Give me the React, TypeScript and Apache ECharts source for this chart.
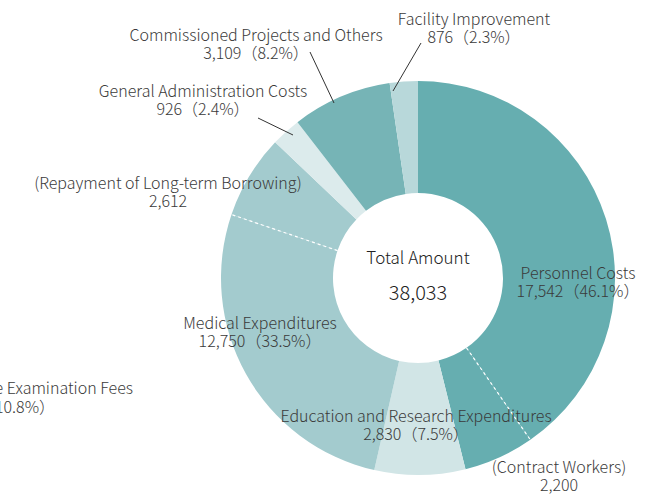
import React, { useEffect, useRef } from "react";
import * as echarts from "echarts";

const categories = [
  "Personnel Costs",
  "Education and Research Expenditures",
  "Medical Expenditures",
  "General Administration Costs",
  "Commissioned Projects and Others",
  "Facility Improvement",
];
const values = [17542, 2830, 12750, 926, 3109, 876];
const percents = ["46.1", "7.5", "33.5", "2.4", "8.2", "2.3"];
const subNames = ["(Contract Workers)", "(Repayment of Long-term Borrowing)"];
const subValues = [2200, 2612];
const subParents = [0, 2];
const centerTitle = "Total Amount";
const strayLabel = ["Medical Care Examination Fees", "4,107（10.8%）"];

const colors = ["#66aeb0", "#d1e5e6", "#a3cbce", "#dcebec", "#76b4b6", "#b8d8da"];

const CX = 418;
const CY = 278;
const R0 = 85;
const R1 = 197;
const FONT = "'Noto Sans CJK JP', 'Noto Sans', sans-serif";
const TEXT_COLOR = "#3a3a3a";

// label layout (center x, middle y of block) per category
const labelPos: [number, number][] = [
  [578, 281],
  [416, 424],
  [260, 331],
  [203, 99],
  [256, 43],
  [474, 27],
];
const subLabelPos: [number, number][] = [
  [559, 475],
  [168, 191],
];
const leaderLines: (number[][] | null)[] = [
  null,
  null,
  null,
  [[258, 118], [293, 135]],
  [[310, 52], [334, 103]],
  [[421, 43], [393, 91]],
];

const fmt = (n: number) => n.toLocaleString("en-US");

export default function App() {
  const ref = useRef<HTMLDivElement>(null);
  useEffect(() => {
    if (!ref.current) return;
    const chart = echarts.init(ref.current, undefined, { renderer: "svg" });
    const total = values.reduce((a, b) => a + b, 0);

    const pieData: any[] = [];
    const dashAngles: number[] = [];
    let cum = 0;
    values.forEach((v, i) => {
      const si = subParents.indexOf(i);
      if (si >= 0) {
        const main = v - subValues[si];
        pieData.push({ name: categories[i], value: main, itemStyle: { color: colors[i] } });
        cum += main;
        dashAngles.push((cum / total) * Math.PI * 2);
        pieData.push({ name: subNames[si], value: subValues[si], itemStyle: { color: colors[i] } });
        cum += subValues[si];
      } else {
        pieData.push({ name: categories[i], value: v, itemStyle: { color: colors[i] } });
        cum += v;
      }
    });

    const graphics: any[] = [];
    dashAngles.forEach((a) => {
      graphics.push({
        type: "line",
        shape: {
          x1: CX + R0 * Math.sin(a),
          y1: CY - R0 * Math.cos(a),
          x2: CX + R1 * Math.sin(a),
          y2: CY - R1 * Math.cos(a),
        },
        style: { stroke: "#ffffff", lineWidth: 1.2, lineDash: [3, 3] },
        z: 10,
      });
    });

    const textEl = (x: number, y: number, text: string, align = "center", size = 16) => ({
      type: "text",
      x,
      y,
      style: {
        text,
        fill: TEXT_COLOR,
        font: `300 ${size}px ${FONT}`,
        lineHeight: 18,
        align,
        verticalAlign: "middle",
      },
      z: 20,
    });

    categories.forEach((c, i) => {
      const [x, y] = labelPos[i];
      graphics.push(textEl(x, y, `${c}\n${fmt(values[i])}（${percents[i]}%）`));
      const ll = leaderLines[i];
      if (ll) {
        graphics.push({
          type: "line",
          shape: { x1: ll[0][0], y1: ll[0][1], x2: ll[1][0], y2: ll[1][1] },
          style: { stroke: "#333333", lineWidth: 1 },
          z: 20,
        });
      }
    });
    subNames.forEach((s, i) => {
      const [x, y] = subLabelPos[i];
      graphics.push(textEl(x, y, `${s}\n${fmt(subValues[i])}`));
    });
    graphics.push(textEl(133, 387, strayLabel[0], "right"));
    graphics.push(textEl(55, 406, strayLabel[1], "right"));
    graphics.push({
      type: "text",
      x: CX,
      y: 256,
      style: { text: centerTitle, fill: "#222222", font: `300 17px ${FONT}`, align: "center", verticalAlign: "middle" },
      z: 20,
    });
    graphics.push({
      type: "text",
      x: CX,
      y: 291,
      style: { text: fmt(total), fill: "#222222", font: `300 20px ${FONT}`, align: "center", verticalAlign: "middle" },
      z: 20,
    });

    chart.setOption({
      animation: false,
      backgroundColor: "#ffffff",
      graphic: graphics,
      series: [
        {
          type: "pie",
          center: [CX, CY],
          radius: [R0, R1],
          startAngle: 90,
          clockwise: true,
          silent: true,
          avoidLabelOverlap: false,
          label: { show: false },
          labelLine: { show: false },
          itemStyle: { borderWidth: 0 },
          data: pieData,
        },
      ],
    });
    return () => chart.dispose();
  }, []);
  return (
    <div
      ref={ref}
      style={{ position: "fixed", left: 0, top: 0, width: 668, height: 495 }}
    />
  );
}
